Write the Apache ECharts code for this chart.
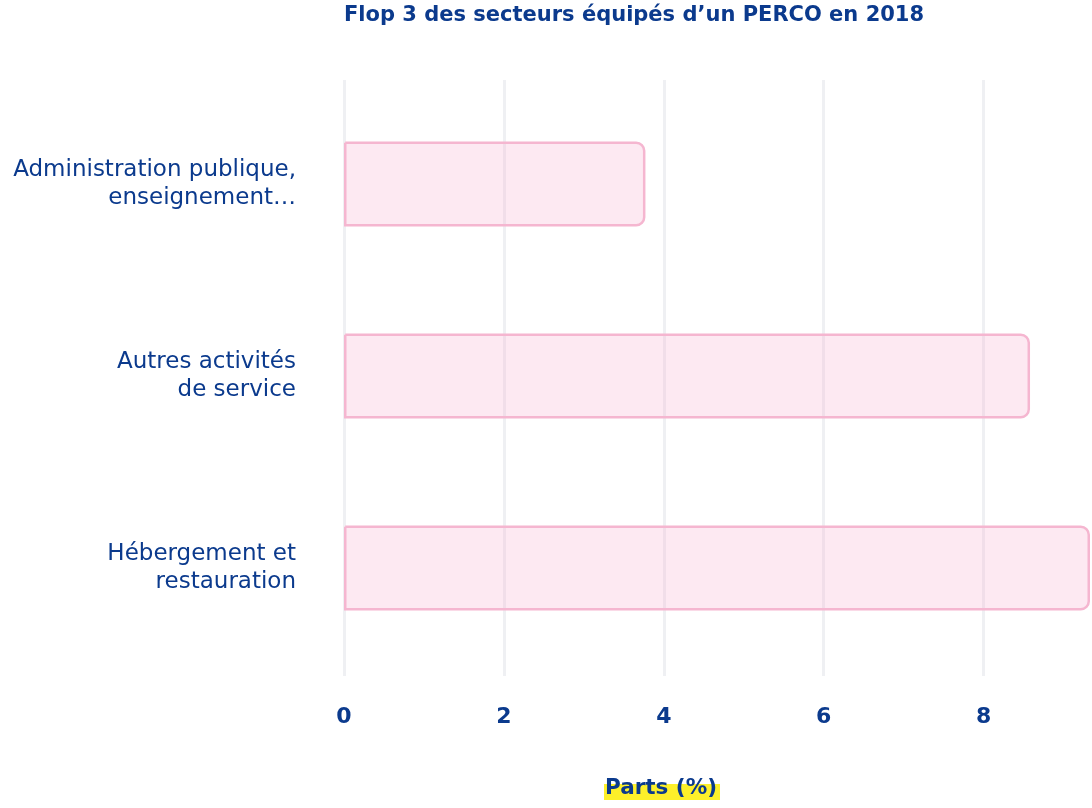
<!DOCTYPE html>
<html>
<head>
<meta charset="utf-8">
<script src="https://cdn.jsdelivr.net/npm/echarts@6/dist/echarts.min.js"></script>
<style>
html,body{margin:0;padding:0;background:#fff;}
#main{width:1092px;height:808px;}
</style>
</head>
<body>
<div id="main"></div>
<script>
const chartTitle = "Flop 3 des secteurs équipés d\u2019un PERCO en 2018";
const axisTitle = "Parts (%)";
const categories = ["Administration publique,\nenseignement\u2026", "Autres activités\nde service", "Hébergement et\nrestauration"];
const values = [3.77, 8.58, 9.33];
const tickInterval = 2;

const BLUE = '#0b3a8d';
const FONT = '"DejaVu Sans", sans-serif';
const xMax = Math.max(...values);

const chart = echarts.init(document.getElementById('main'), null, {renderer: 'canvas'});
chart.setOption({
  animation: false,
  backgroundColor: '#ffffff',
  title: [
    {
      text: chartTitle, left: 344, top: 5, padding: 0,
      textStyle: {color: BLUE, fontFamily: FONT, fontWeight: 'bold', fontSize: 21}
    },
    {
      text: axisTitle, left: 605, top: 777, padding: 0, z: 10,
      textStyle: {color: BLUE, fontFamily: FONT, fontWeight: 'bold', fontSize: 21.5}
    }
  ],
  graphic: [{
    type: 'rect', left: 604, top: 784, z: 1,
    shape: {width: 116, height: 16},
    style: {fill: '#fdf02a'}
  }],
  grid: [
    {left: 344, right: 2, top: 80, bottom: 132},
    {left: 344, right: 2, top: 88, height: 576}
  ],
  xAxis: [
    {
      gridIndex: 0, type: 'value', min: 0, max: xMax, interval: tickInterval,
      axisLine: {show: false}, axisTick: {show: false},
      splitLine: {show: true, showMaxLine: false, lineStyle: {color: '#eff0f3', width: 3}},
      axisLabel: {
        margin: 30, color: BLUE, fontFamily: FONT, fontWeight: 'bold', fontSize: 22,
        showMaxLabel: false
      }
    },
    {
      gridIndex: 1, type: 'value', min: 0, max: xMax, show: false,
      splitLine: {show: false}
    }
  ],
  yAxis: [
    {gridIndex: 0, type: 'value', show: false, splitLine: {show: false}},
    {
      gridIndex: 1, type: 'category', data: categories, inverse: true,
      axisLine: {show: false}, axisTick: {show: false}, splitLine: {show: false},
      axisLabel: {
        margin: 48, color: BLUE, fontFamily: FONT, fontSize: 23, lineHeight: 28, align: 'right'
      }
    }
  ],
  series: [{
    type: 'bar', xAxisIndex: 1, yAxisIndex: 1,
    data: values, barWidth: 85,
    itemStyle: {
      color: 'rgba(249, 168, 204, 0.25)',
      borderColor: '#f5b6d0', borderWidth: 2.5,
      borderRadius: [0, 8, 8, 0]
    }
  }]
});
</script>
</body>
</html>
